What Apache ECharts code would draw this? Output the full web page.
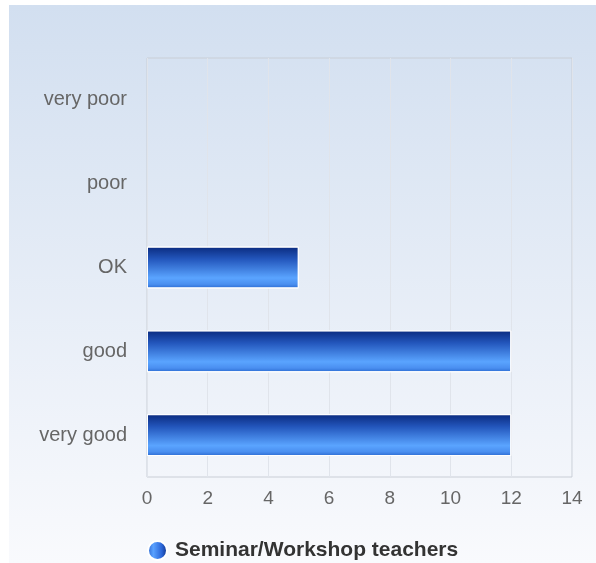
<!DOCTYPE html>
<html>
<head>
<meta charset="utf-8">
<script src="https://cdn.jsdelivr.net/npm/echarts@6/dist/echarts.min.js"></script>
<style>
body{margin:0;background:#fff;}
#chart{position:absolute;left:9px;top:5px;width:587px;height:558px;}
</style>
</head>
<body>
<div id="chart"></div>
<script>
// ratings, bottom to top
var categories = ['very good', 'good', 'OK', 'poor', 'very poor'];
var values = [12, 12, 5, 0, 0];
var seriesName = 'Seminar/Workshop teachers';

var dom = document.getElementById('chart');
var myChart = echarts.init(dom);

// zero bars get no white border
var barData = values.map(function (v) {
    return v === 0 ? {value: v, itemStyle: {borderWidth: 0}} : v;
});

var option = {
    backgroundColor: new echarts.graphic.LinearGradient(0, 0, 0, 1, [
        {offset: 0, color: '#d2dff0'},
        {offset: 1, color: '#f9fafd'}
    ]),
    textStyle: {fontFamily: 'Liberation Sans, Arial, sans-serif'},
    grid: {left: 138, right: 24, top: 53, bottom: 86, show: true, borderColor: '#c9ced6', borderWidth: 1},
    legend: {
        bottom: 2,
        left: 138,
        padding: 0,
        itemWidth: 19,
        itemHeight: 19,
        icon: 'circle',
        itemGap: 5,
        textStyle: {fontSize: 21, fontWeight: 'bold', color: '#333', padding: [0, 0, 0, 3]},
        data: [{
            name: seriesName,
            itemStyle: {
                color: new echarts.graphic.LinearGradient(0, 0, 1, 0, [
                    {offset: 0, color: '#2a62cc'},
                    {offset: 0.3, color: '#5aa2ff'},
                    {offset: 0.7, color: '#2b66d8'},
                    {offset: 1, color: '#0b2a7c'}
                ])
            }
        }]
    },
    xAxis: {
        type: 'value',
        min: 0,
        max: 14,
        interval: 2,
        axisLine: {show: false},
        axisTick: {show: false},
        splitLine: {lineStyle: {color: '#e0e4eb'}},
        axisLabel: {fontSize: 19, color: '#666', margin: 12}
    },
    yAxis: {
        type: 'category',
        data: categories,
        axisLine: {show: false},
        axisTick: {show: false},
        splitLine: {show: false},
        axisLabel: {fontSize: 20, color: '#666', margin: 20}
    },
    series: [{
        name: seriesName,
        type: 'bar',
        data: barData,
        barWidth: '50%',
        itemStyle: {
            borderColor: '#ffffff',
            borderWidth: 1,
            color: new echarts.graphic.LinearGradient(0, 0, 0, 1, [
                {offset: 0, color: '#0a2a7e'},
                {offset: 0.3, color: '#2356bc'},
                {offset: 0.75, color: '#5aa4ff'},
                {offset: 0.9, color: '#4a8ff0'},
                {offset: 1, color: '#2a6ad0'}
            ])
        }
    }]
};

myChart.setOption(option, true);
</script>
</body>
</html>
